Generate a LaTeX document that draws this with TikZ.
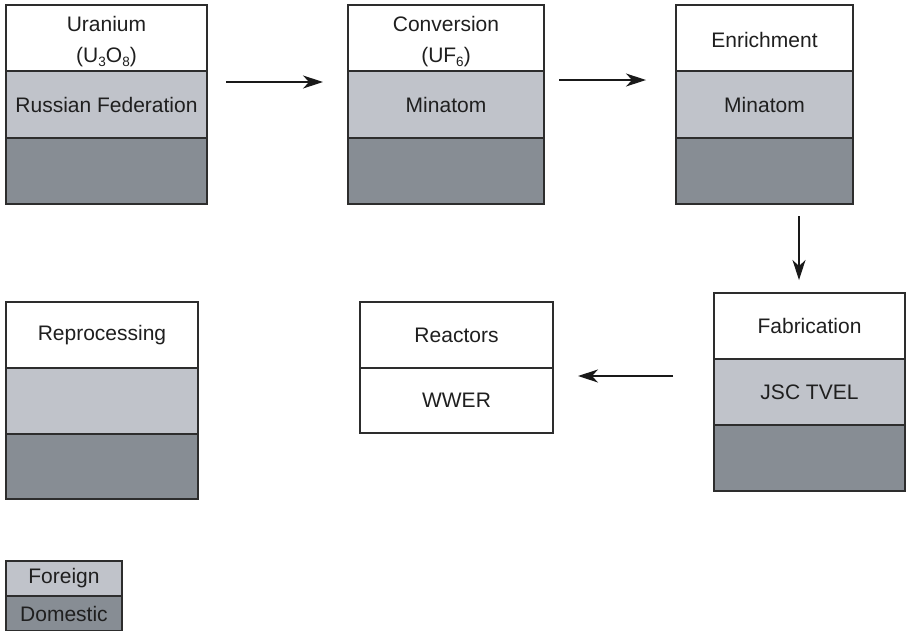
\documentclass[tikz,border=0pt]{standalone}
\usepackage{fontspec}
\setmainfont{Liberation Sans}
\usetikzlibrary{arrows.meta}
\definecolor{foreign}{RGB}{192,195,202}
\definecolor{domestic}{RGB}{135,141,148}
\definecolor{edge}{RGB}{45,45,45}
\newcommand{\sbs}[1]{\raisebox{-0.22em}{\fontsize{13.5}{13.5}\selectfont #1}}
\begin{document}
\begin{tikzpicture}[x=1pt,y=-1pt,
  txt/.style={inner sep=0pt, align=center, text=black!88, font=\fontsize{21}{34}\selectfont},
  basetxt/.style={txt, anchor=base},
  cell/.style={txt, draw=edge, line width=1.3pt, rectangle, outer sep=0pt, anchor=north west},
  white cell/.style={cell, fill=white},
  fgn cell/.style={cell, fill=foreign},
  dom cell/.style={cell, fill=domestic},
  arr/.style={-{Stealth[length=20pt,width=13pt,inset=6pt]}, line width=1.2pt, draw=black!90}]
\useasboundingbox (0,0) rectangle (907,630);
% Uranium
\node[white cell, minimum width=201pt, minimum height=66pt] (uT) at (6,5) {};
\node[basetxt] (uT1) at (106.5,31) {Uranium};
\node[basetxt] (uT2) at (106.5,62) {(U\sbs{3}O\sbs{8})};
\node[fgn cell, minimum width=201pt, minimum height=67pt] (uM) at (6,71) {Russian Federation};
\node[dom cell, minimum width=201pt, minimum height=66pt] (uB) at (6,138) {};
% Conversion
\node[white cell, minimum width=196pt, minimum height=66pt] (cT) at (348,5) {};
\node[basetxt] (cT1) at (446,31) {Conversion};
\node[basetxt] (cT2) at (446,62) {(UF\sbs{6})};
\node[fgn cell, minimum width=196pt, minimum height=67pt] (cM) at (348,71) {Minatom};
\node[dom cell, minimum width=196pt, minimum height=66pt] (cB) at (348,138) {};
% Enrichment
\node[white cell, minimum width=177pt, minimum height=66pt] (eT) at (676,5) {};
\node[txt] (eTt) at (764.5,40) {Enrichment};
\node[fgn cell, minimum width=177pt, minimum height=67pt] (eM) at (676,71) {Minatom};
\node[dom cell, minimum width=177pt, minimum height=66pt] (eB) at (676,138) {};
% Fabrication
\node[white cell, minimum width=191pt, minimum height=66pt] (fT) at (714,293) {Fabrication};
\node[fgn cell, minimum width=191pt, minimum height=66pt] (fM) at (714,359) {JSC TVEL};
\node[dom cell, minimum width=191pt, minimum height=66pt] (fB) at (714,425) {};
% Reactors
\node[white cell, minimum width=193pt, minimum height=66pt] (rT) at (360,302) {Reactors};
\node[white cell, minimum width=193pt, minimum height=65pt] (rM) at (360,368) {WWER};
% Reprocessing
\node[white cell, minimum width=192pt, minimum height=66pt] (pT) at (6,302) {Reprocessing};
\node[fgn cell, minimum width=192pt, minimum height=66pt] (pM) at (6,368) {};
\node[dom cell, minimum width=192pt, minimum height=65pt] (pB) at (6,434) {};
% Legend
\node[fgn cell, minimum width=116pt, minimum height=35pt] (lF) at (6,561) {Foreign};
\node[dom cell, minimum width=116pt, minimum height=35pt] (lD) at (6,596) {Domestic};
% Arrows
\draw[arr, shorten <=19pt, shorten >=25pt] ([yshift=22.5pt]uM.east) -- ([yshift=22.5pt]cM.west);
\draw[arr, shorten <=15pt, shorten >=30pt] ([yshift=24.5pt]cM.east) -- ([yshift=24.5pt]eM.west);
\draw[arr, shorten <=12pt, shorten >=13pt] ([xshift=34.5pt]eB.south) -- ([xshift=34.5pt]eB.south |- fT.north);
\draw[arr, shorten <=41pt, shorten >=25pt] ([yshift=16pt]fM.west) -- ([yshift=16pt]fM.west -| rM.east);
\end{tikzpicture}
\end{document}
